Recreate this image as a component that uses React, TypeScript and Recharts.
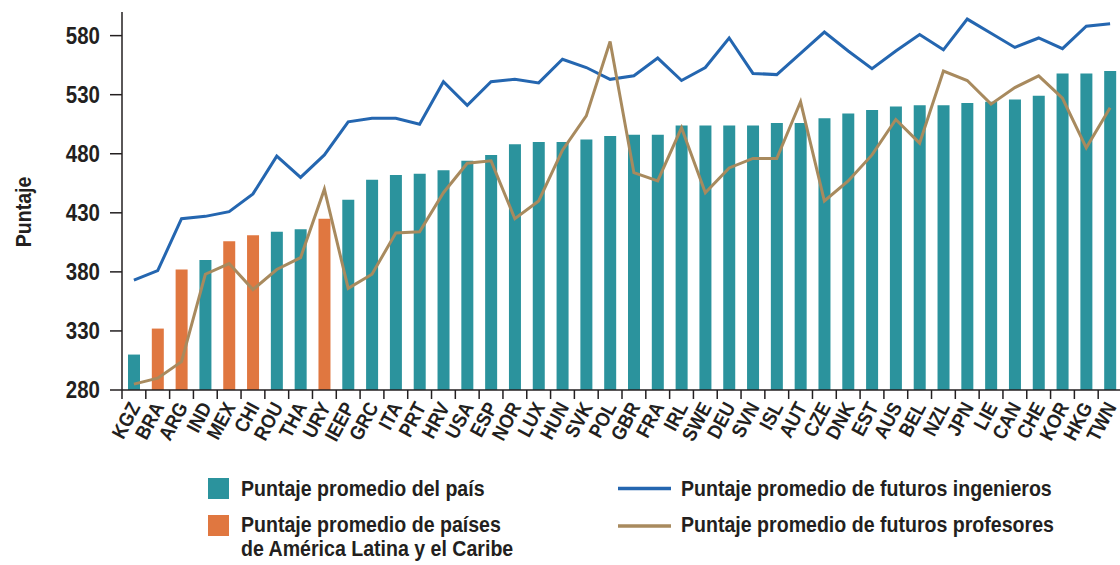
import React from 'react';
import { ComposedChart, Bar, Line, XAxis, YAxis, Cell, Legend } from 'recharts';

const categories = ['KGZ','BRA','ARG','IND','MEX','CHI','ROU','THA','URY','IEEP','GRC','ITA','PRT','HRV','USA','ESP','NOR','LUX','HUN','SVK','POL','GBR','FRA','IRL','SWE','DEU','SVN','ISL','AUT','CZE','DNK','EST','AUS','BEL','NZL','JPN','LIE','CAN','CHE','KOR','HKG','TWN'];
const countryScores = [310,332,382,390,406,411,414,416,425,441,458,462,463,466,474,479,488,490,490,492,495,496,496,504,504,504,504,506,506,510,514,517,520,521,521,523,524,526,529,548,548,550];
const engineerScores = [373,381,425,427,431,446,478,460,479,507,510,510,505,541,521,541,543,540,560,553,543,546,561,542,553,578,548,547,565,583,567,552,567,581,568,594,582,570,578,569,588,590];
const teacherScores = [285,290,304,378,387,365,382,392,450,366,378,413,414,447,472,474,425,440,483,512,575,464,457,502,447,468,476,476,524,440,457,479,509,489,550,542,522,536,546,527,485,519];
const latamCountries = ['BRA','ARG','MEX','CHI','URY'];
const yTicks = [280,330,380,430,480,530,580];

const TEAL = '#2B939D';
const ORANGE = '#E07740';
const BLUE = '#2466B0';
const BROWN = '#A88A5E';
const INK = '#231F20';
const FONT = '"Liberation Sans", Arial, sans-serif';
const SQ = 0.89;

const data = categories.map((c, i) => ({
  code: c,
  pais: countryScores[i],
  ingenieros: engineerScores[i],
  profesores: teacherScores[i],
  latam: latamCountries.includes(c),
}));

const CHART_W = 1125;
const CHART_H = 565;
const Y_W = 122;
const M_RIGHT = 3;
const HALF_BAND = (CHART_W - Y_W - M_RIGHT) / categories.length / 2;

const NarrowText = ({ x, y, rotate = 0, size, anchor = 'start', dy = 0, children }: any) => (
  <text
    transform={`translate(${x},${y}) rotate(${rotate}) scale(${SQ},1)`}
    textAnchor={anchor}
    dy={dy}
    fontSize={size}
    fontWeight="bold"
    fontFamily={FONT}
    fill={INK}
  >
    {children}
  </text>
);

const XTick = (props: any) => {
  const { x, y, payload } = props;
  return (
    <g>
      <line x1={x - HALF_BAND} x2={x - HALF_BAND} y1={y} y2={y + 9} stroke={INK} strokeWidth={1.5} />
      <NarrowText x={x + 7} y={y + 17} rotate={-62} size={20} anchor="end">{payload.value}</NarrowText>
    </g>
  );
};

const YTick = (props: any) => {
  const { x, y, payload } = props;
  return <NarrowText x={x} y={y} size={23} anchor="end" dy="0.36em">{payload.value}</NarrowText>;
};

const LegendContent = () => (
  <svg width={1120} height={95} style={{ display: 'block' }}>
    <rect x={208} y={8} width={21} height={21} fill={TEAL} />
    <NarrowText x={241} y={25.7} size={22}>Puntaje promedio del país</NarrowText>
    <rect x={208} y={45} width={21} height={21} fill={ORANGE} />
    <NarrowText x={241} y={61.7} size={22}>Puntaje promedio de países</NarrowText>
    <NarrowText x={241} y={85.7} size={22}>de América Latina y el Caribe</NarrowText>
    <line x1={618} x2={671} y1={18.5} y2={18.5} stroke={BLUE} strokeWidth={3.5} />
    <NarrowText x={681} y={25.7} size={22}>Puntaje promedio de futuros ingenieros</NarrowText>
    <line x1={618} x2={671} y1={56} y2={56} stroke={BROWN} strokeWidth={3.5} />
    <NarrowText x={681} y={61.7} size={22}>Puntaje promedio de futuros profesores</NarrowText>
  </svg>
);

export default function App() {
  return (
    <div style={{ position: 'absolute', left: 0, top: 0, width: 1120, height: 565, overflow: 'hidden', background: '#fff' }}>
      <ComposedChart
        width={CHART_W}
        height={CHART_H}
        data={data}
        margin={{ top: 12, right: M_RIGHT, bottom: 0, left: 0 }}
      >
        <XAxis
          dataKey="code"
          interval={0}
          height={175}
          tickLine={false}
          tickSize={0}
          tickMargin={0}
          axisLine={{ stroke: INK, strokeWidth: 1.5 }}
          tick={<XTick />}
        />
        <YAxis
          width={Y_W}
          domain={[280, 600]}
          ticks={yTicks}
          allowDataOverflow
          tickSize={12}
          tickMargin={10}
          axisLine={{ stroke: INK, strokeWidth: 1.5 }}
          tickLine={{ stroke: INK, strokeWidth: 1.5 }}
          tick={<YTick />}
        />
        <Legend
          layout="horizontal"
          verticalAlign="middle"
          align="center"
          content={<LegendContent />}
          wrapperStyle={{ position: 'absolute', top: 470, left: 0, width: 1120, height: 95 }}
        />
        <Bar dataKey="pais" barSize={12} isAnimationActive={false}>
          {data.map((d) => (
            <Cell key={d.code} fill={d.latam ? ORANGE : TEAL} />
          ))}
        </Bar>
        <Line type="linear" dataKey="ingenieros" stroke={BLUE} strokeWidth={3} dot={false} activeDot={false} isAnimationActive={false} />
        <Line type="linear" dataKey="profesores" stroke={BROWN} strokeWidth={3} dot={false} activeDot={false} isAnimationActive={false} />
        <NarrowText x={31} y={212} rotate={-90} size={22} anchor="middle">Puntaje</NarrowText>
      </ComposedChart>
    </div>
  );
}
